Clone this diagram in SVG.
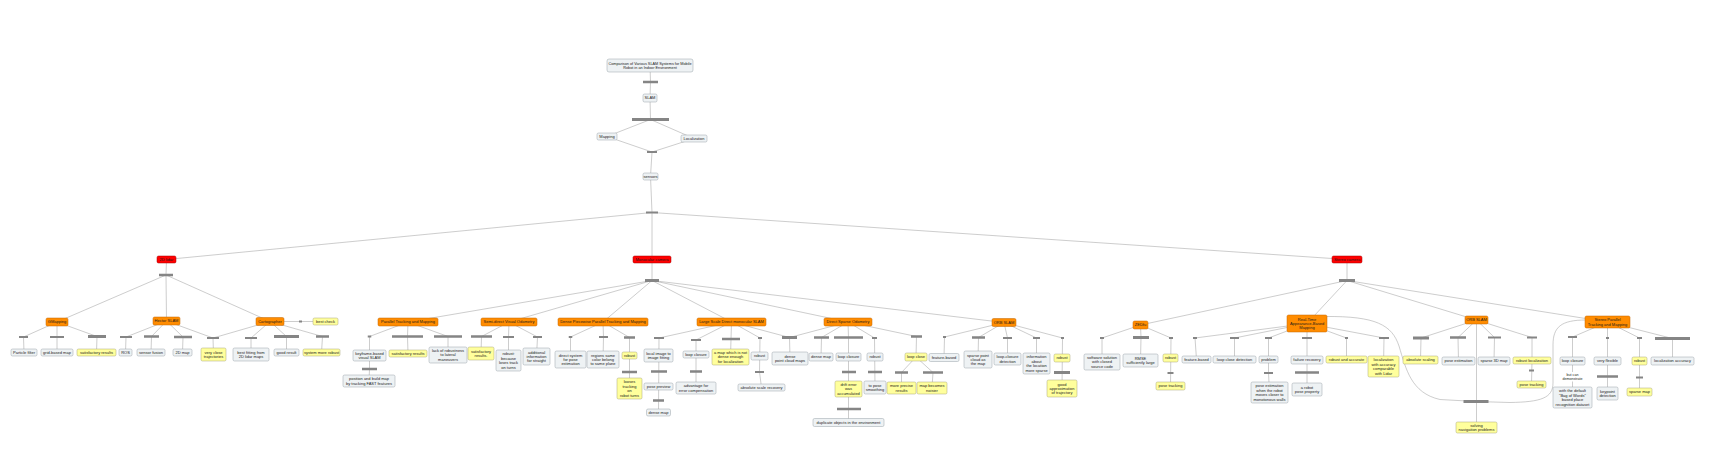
<svg xmlns="http://www.w3.org/2000/svg" width="1721" height="455" viewBox="0 0 1721 455">
<style>
text{font-family:"Liberation Sans",Arial,sans-serif;font-size:4px;fill:#1a1a1a;text-anchor:middle}
.n rect{fill:#eef2f4;stroke:#98a2a8;stroke-width:.5}
.y rect{fill:#ffff9c;stroke:#a8a67a;stroke-width:.5}
.o rect{fill:#ff8c00;stroke:#c06400;stroke-width:.5}
.r rect{fill:#ff0000;stroke:#a00000;stroke-width:.5}
#connectors line,#connectors path{stroke:#a3a3a3;stroke-width:.55;fill:none}
#connectors rect.b{fill:#858585}
</style>
<rect width="1721" height="455" fill="#ffffff"/>
<g id="connectors">
<line x1="650" y1="65.5" x2="650.5" y2="82"/>
<line x1="650.5" y1="82" x2="650" y2="98"/>
<line x1="650" y1="98" x2="650.5" y2="119.5"/>
<line x1="650.5" y1="119.5" x2="607" y2="136.5"/>
<line x1="650.5" y1="119.5" x2="694" y2="138.5"/>
<line x1="607" y1="136.5" x2="652" y2="152"/>
<line x1="694" y1="138.5" x2="652" y2="152"/>
<line x1="652" y1="152" x2="650.5" y2="176.5"/>
<line x1="650.5" y1="176.5" x2="652" y2="212.5"/>
<line x1="652" y1="212.5" x2="166.5" y2="259.5"/>
<line x1="652" y1="212.5" x2="652" y2="259.5"/>
<line x1="652" y1="212.5" x2="1347" y2="259.5"/>
<!-- 2D lidar -->
<line x1="166.5" y1="259.5" x2="166" y2="275"/>
<line x1="166" y1="275" x2="57" y2="322"/>
<line x1="166" y1="275" x2="166.5" y2="321"/>
<line x1="166" y1="275" x2="270" y2="321.5"/>
<line x1="57" y1="322" x2="23.5" y2="337"/>
<line x1="57" y1="322" x2="57" y2="337"/>
<line x1="57" y1="322" x2="97" y2="336.5"/>
<line x1="23.5" y1="337" x2="24" y2="352.5"/>
<line x1="57" y1="337" x2="57" y2="352.5"/>
<line x1="97" y1="336.5" x2="96.5" y2="352.5"/>
<line x1="166.5" y1="321" x2="126" y2="337"/>
<line x1="166.5" y1="321" x2="151.5" y2="336.5"/>
<line x1="166.5" y1="321" x2="183" y2="337"/>
<line x1="166.5" y1="321" x2="213" y2="338"/>
<line x1="126" y1="337" x2="125.5" y2="352.5"/>
<line x1="151.5" y1="336.5" x2="151" y2="352.5"/>
<line x1="183" y1="337" x2="182.5" y2="352.5"/>
<line x1="213" y1="338" x2="213.5" y2="354.5"/>
<line x1="270" y1="321.5" x2="213" y2="338"/>
<line x1="270" y1="321.5" x2="251" y2="338"/>
<line x1="270" y1="321.5" x2="286.5" y2="336.5"/>
<line x1="270" y1="321.5" x2="322.5" y2="336.5"/>
<line x1="251" y1="338" x2="251" y2="354.5"/>
<line x1="286.5" y1="336.5" x2="286.5" y2="352.5"/>
<line x1="322.5" y1="336.5" x2="321.5" y2="352.5"/>
<line x1="270" y1="321.5" x2="325.5" y2="321.5"/>
<!-- Monocular -->
<line x1="652" y1="259.5" x2="652" y2="280.5"/>
<line x1="652" y1="280.5" x2="408" y2="322"/>
<line x1="652" y1="280.5" x2="509" y2="322"/>
<line x1="652" y1="280.5" x2="603" y2="322"/>
<line x1="652" y1="280.5" x2="731.5" y2="322"/>
<line x1="652" y1="280.5" x2="848" y2="322"/>
<line x1="652" y1="280.5" x2="1004" y2="322.5"/>
<line x1="408" y1="322" x2="369.5" y2="336.5"/>
<line x1="408" y1="322" x2="407.5" y2="336.5"/>
<line x1="408" y1="322" x2="448" y2="336.5"/>
<line x1="369.5" y1="336.5" x2="369.5" y2="369"/>
<line x1="369.5" y1="369" x2="369" y2="381"/>
<line x1="407.5" y1="336.5" x2="408" y2="353.5"/>
<line x1="448" y1="336.5" x2="448" y2="355"/>
<line x1="509" y1="322" x2="481.5" y2="336.5"/>
<line x1="509" y1="322" x2="508.5" y2="337"/>
<line x1="509" y1="322" x2="537.5" y2="337"/>
<line x1="481.5" y1="336.5" x2="481" y2="353.5"/>
<line x1="508.5" y1="337" x2="508.5" y2="360.5"/>
<line x1="537.5" y1="337" x2="536.5" y2="356.5"/>
<line x1="603" y1="322" x2="570.5" y2="337"/>
<line x1="603" y1="322" x2="603.5" y2="337"/>
<line x1="603" y1="322" x2="629.5" y2="337.5"/>
<line x1="570.5" y1="337" x2="570.5" y2="359.5"/>
<line x1="603.5" y1="337" x2="603" y2="359.5"/>
<line x1="629.5" y1="337.5" x2="629.5" y2="388.5"/>
<line x1="731.5" y1="322" x2="659" y2="338"/>
<line x1="731.5" y1="322" x2="696" y2="340"/>
<line x1="731.5" y1="322" x2="731" y2="339"/>
<line x1="731.5" y1="322" x2="760" y2="338"/>
<line x1="731.5" y1="322" x2="789.5" y2="337.5"/>
<line x1="659" y1="338" x2="658.5" y2="412.5"/>
<line x1="696" y1="340" x2="696" y2="388"/>
<line x1="731" y1="339" x2="730.5" y2="357"/>
<line x1="760" y1="338" x2="759.5" y2="372"/>
<line x1="759.5" y1="372" x2="761.5" y2="387.5"/>
<line x1="789.5" y1="337.5" x2="790" y2="358.5"/>
<line x1="848" y1="322" x2="789.5" y2="337.5"/>
<line x1="848" y1="322" x2="821.5" y2="337.5"/>
<line x1="848" y1="322" x2="848.5" y2="337.5"/>
<line x1="848" y1="322" x2="874.5" y2="338"/>
<line x1="848" y1="322" x2="916.5" y2="336.5"/>
<line x1="821.5" y1="337.5" x2="821" y2="357"/>
<line x1="848.5" y1="337.5" x2="848.5" y2="422.5"/>
<line x1="874.5" y1="338" x2="875" y2="387.5"/>
<line x1="916.5" y1="336.5" x2="916" y2="357"/>
<line x1="916" y1="357" x2="901.5" y2="372.5"/>
<line x1="901.5" y1="372.5" x2="901.5" y2="388"/>
<line x1="916" y1="357" x2="933" y2="372.5"/>
<line x1="933" y1="372.5" x2="932" y2="388"/>
<line x1="1004" y1="322.5" x2="944.5" y2="337"/>
<line x1="1004" y1="322.5" x2="978.5" y2="337.5"/>
<line x1="1004" y1="322.5" x2="1007.5" y2="338"/>
<line x1="1004" y1="322.5" x2="1036.5" y2="338"/>
<line x1="1004" y1="322.5" x2="1062.5" y2="338"/>
<line x1="944.5" y1="337" x2="944" y2="357.5"/>
<line x1="978.5" y1="337.5" x2="978" y2="359.5"/>
<line x1="1007.5" y1="338" x2="1007.5" y2="359"/>
<line x1="1036.5" y1="338" x2="1036.5" y2="363.5"/>
<line x1="1062.5" y1="338" x2="1062" y2="388.5"/>
<!-- Stereo -->
<line x1="1347" y1="259.5" x2="1347" y2="280.5"/>
<line x1="1347" y1="280.5" x2="1140.5" y2="325"/>
<line x1="1347" y1="280.5" x2="1307" y2="323.5"/>
<line x1="1347" y1="280.5" x2="1476.5" y2="320"/>
<line x1="1347" y1="280.5" x2="1607.5" y2="322"/>
<line x1="1140.5" y1="325" x2="1102" y2="338"/>
<line x1="1140.5" y1="325" x2="1141" y2="337.5"/>
<line x1="1140.5" y1="325" x2="1171" y2="338"/>
<line x1="1102" y1="338" x2="1102" y2="362"/>
<line x1="1141" y1="337.5" x2="1140.5" y2="360.5"/>
<line x1="1171" y1="338" x2="1170.5" y2="386"/>
<line x1="1307" y1="323.5" x2="1195" y2="338"/>
<line x1="1307" y1="323.5" x2="1234.5" y2="338"/>
<line x1="1307" y1="323.5" x2="1268.5" y2="338"/>
<line x1="1307" y1="323.5" x2="1307" y2="338"/>
<line x1="1307" y1="323.5" x2="1346.5" y2="338"/>
<line x1="1307" y1="323.5" x2="1384" y2="338"/>
<line x1="1195" y1="338" x2="1196.5" y2="359.5"/>
<line x1="1234.5" y1="338" x2="1234.5" y2="359.5"/>
<line x1="1268.5" y1="338" x2="1268.5" y2="373"/>
<line x1="1268.5" y1="373" x2="1269.5" y2="392.5"/>
<line x1="1307" y1="338" x2="1307" y2="389.5"/>
<line x1="1346.5" y1="338" x2="1346.5" y2="359.5"/>
<line x1="1384" y1="338" x2="1383.5" y2="366.5"/>
<path d="M1325,316.5 C1376,316 1392,325 1399,346 C1406,369 1411,393 1440,399.5 L1476,401.5"/>
<path d="M1586,320 C1561,320 1553,327 1553,345 L1553,383 C1553,398 1541,402 1510,402.5 L1476,401.5"/>
<line x1="1476.5" y1="320" x2="1421" y2="338"/>
<line x1="1476.5" y1="320" x2="1458" y2="337.5"/>
<line x1="1476.5" y1="320" x2="1494.5" y2="337.5"/>
<line x1="1476.5" y1="320" x2="1532" y2="337.5"/>
<line x1="1476.5" y1="320" x2="1476.5" y2="427.5"/>
<line x1="1421" y1="338" x2="1420.5" y2="360"/>
<line x1="1458" y1="337.5" x2="1458.5" y2="361"/>
<line x1="1494.5" y1="337.5" x2="1494" y2="361"/>
<line x1="1532" y1="337.5" x2="1532" y2="360.5"/>
<line x1="1532" y1="360.5" x2="1531.5" y2="384.5"/>
<line x1="1607.5" y1="322" x2="1572.5" y2="337"/>
<line x1="1607.5" y1="322" x2="1607.5" y2="338"/>
<line x1="1607.5" y1="322" x2="1639.5" y2="338"/>
<line x1="1607.5" y1="322" x2="1672.5" y2="338.5"/>
<line x1="1572.5" y1="337" x2="1572.5" y2="397.5"/>
<line x1="1607.5" y1="338" x2="1607.5" y2="393.5"/>
<line x1="1639.5" y1="338" x2="1639.5" y2="392"/>
<line x1="1672.5" y1="338.5" x2="1672.5" y2="361"/>
<!-- linking bars -->
<rect class="b" x="643" y="80.75" width="15" height="2.5"/>
<rect class="b" x="632" y="118" width="37" height="3"/>
<rect class="b" x="647" y="151" width="10" height="2"/>
<rect class="b" x="646" y="211.5" width="12" height="2"/>
<rect class="b" x="159" y="273.75" width="14" height="2.5"/>
<rect class="b" x="19" y="336" width="9" height="2"/>
<rect class="b" x="50" y="336" width="14" height="2"/>
<rect class="b" x="88" y="335" width="18" height="3"/>
<rect class="b" x="120" y="336" width="12" height="2"/>
<rect class="b" x="144" y="335.25" width="15" height="2.5"/>
<rect class="b" x="174" y="335.75" width="18" height="2.5"/>
<rect class="b" x="207" y="337" width="12" height="2"/>
<rect class="b" x="245" y="337" width="12" height="2"/>
<rect class="b" x="274" y="335" width="25" height="3"/>
<rect class="b" x="316" y="335.25" width="13" height="2.5"/>
<rect class="b" x="299" y="320.5" width="3" height="2"/>
<rect class="b" x="645" y="279" width="14" height="3"/>
<rect class="b" x="367.75" y="335.5" width="3.5" height="2"/>
<rect class="b" x="392" y="335.25" width="31" height="2.5"/>
<rect class="b" x="434" y="335.25" width="28" height="2.5"/>
<rect class="b" x="362" y="367.75" width="15" height="2.5"/>
<rect class="b" x="471" y="335.25" width="21" height="2.5"/>
<rect class="b" x="503" y="336" width="11" height="2"/>
<rect class="b" x="533" y="336" width="9" height="2"/>
<rect class="b" x="568.75" y="336" width="3.5" height="2"/>
<rect class="b" x="599" y="336" width="9" height="2"/>
<rect class="b" x="624" y="336.25" width="11" height="2.5"/>
<rect class="b" x="622" y="370.75" width="15" height="2.5"/>
<rect class="b" x="654" y="337" width="10" height="2"/>
<rect class="b" x="651" y="370.25" width="16" height="2.5"/>
<rect class="b" x="653" y="399.25" width="11" height="2.5"/>
<rect class="b" x="691" y="339" width="10" height="2"/>
<rect class="b" x="690" y="370.25" width="12" height="2.5"/>
<rect class="b" x="722" y="337.75" width="18" height="2.5"/>
<rect class="b" x="758" y="337" width="4" height="2"/>
<rect class="b" x="755" y="371" width="9" height="2"/>
<rect class="b" x="782" y="336" width="15" height="3"/>
<rect class="b" x="814" y="336.25" width="15" height="2.5"/>
<rect class="b" x="834" y="336.25" width="29" height="2.5"/>
<rect class="b" x="872" y="337" width="5" height="2"/>
<rect class="b" x="911" y="335.25" width="11" height="2.5"/>
<rect class="b" x="842" y="370.75" width="14" height="2.5"/>
<rect class="b" x="837" y="407.75" width="24" height="2.5"/>
<rect class="b" x="868" y="370.75" width="14" height="2.5"/>
<rect class="b" x="895" y="371.25" width="13" height="2.5"/>
<rect class="b" x="923" y="371.25" width="20" height="2.5"/>
<rect class="b" x="943" y="336" width="3" height="2"/>
<rect class="b" x="972" y="336.25" width="13" height="2.5"/>
<rect class="b" x="1003" y="337" width="9" height="2"/>
<rect class="b" x="1033" y="337" width="7" height="2"/>
<rect class="b" x="1061" y="337" width="3" height="2"/>
<rect class="b" x="1054" y="371" width="16" height="3"/>
<rect class="b" x="1339" y="279" width="16" height="3"/>
<rect class="b" x="1100" y="337" width="4" height="2"/>
<rect class="b" x="1133" y="336" width="16" height="3"/>
<rect class="b" x="1169" y="337" width="4" height="2"/>
<rect class="b" x="1167.5" y="372" width="6" height="2"/>
<rect class="b" x="1193" y="337" width="4" height="2"/>
<rect class="b" x="1230" y="337" width="9" height="2"/>
<rect class="b" x="1265" y="337" width="7" height="2"/>
<rect class="b" x="1264" y="372" width="9" height="2"/>
<rect class="b" x="1302" y="337" width="10" height="2"/>
<rect class="b" x="1295" y="371.25" width="24" height="2.5"/>
<rect class="b" x="1345" y="337" width="3" height="2"/>
<rect class="b" x="1379" y="337" width="10" height="2"/>
<rect class="b" x="1413" y="336.5" width="16" height="3"/>
<rect class="b" x="1450" y="336.25" width="16" height="2.5"/>
<rect class="b" x="1488" y="336.5" width="13" height="2"/>
<rect class="b" x="1527" y="336.5" width="10" height="2"/>
<rect class="b" x="1529" y="369.5" width="5" height="2"/>
<rect class="b" x="1463.5" y="400" width="25" height="3"/>
<rect class="b" x="1568" y="336" width="9" height="2"/>
<rect class="b" x="1606" y="337" width="3" height="2"/>
<rect class="b" x="1637" y="337" width="5" height="2"/>
<rect class="b" x="1655" y="337" width="35" height="3"/>
<rect class="b" x="1597" y="375.25" width="21" height="2.5"/>
<rect class="b" x="1636" y="376.5" width="7" height="2"/>
<rect x="1561" y="372" width="23" height="9.5" fill="#ffffff"/>
<text x="1572.5" y="375.8" style="font-size:3.6px"><tspan x="1572.5">but can</tspan><tspan x="1572.5" dy="4">demonstrate</tspan></text>
</g>
<g id="n-title" class="n"><rect x="607" y="59" width="86" height="13" rx="2"/><text x="650" y="64.6" style="font-size:3.8px"><tspan x="650">Comparison of Various SLAM Systems for Mobile</tspan><tspan x="650" dy="4.4">Robot in an Indoor Environment</tspan></text></g>
<g id="n-slam" class="n"><rect x="643" y="94" width="14" height="8" rx="1.5"/><text x="650" y="99.4">SLAM</text></g>
<g id="n-mapping" class="n"><rect x="597" y="133" width="20" height="7" rx="1.5"/><text x="607" y="137.9">Mapping</text></g>
<g id="n-localization" class="n"><rect x="681" y="135" width="26" height="7" rx="1.5"/><text x="694" y="139.9">Localization</text></g>
<g id="n-sensors" class="n"><rect x="643" y="173" width="15" height="7" rx="1.5"/><text x="650.5" y="177.9">sensors</text></g>
<g id="n-lidar" class="r"><rect x="157" y="256" width="19" height="7" rx="1.5"/><text x="166.5" y="260.9">2D lidar</text></g>
<g id="n-mono" class="r"><rect x="633" y="256" width="38" height="7" rx="1.5"/><text x="652" y="260.9">Monocular camera</text></g>
<g id="n-stereo" class="r"><rect x="1332" y="256" width="30" height="7" rx="1.5"/><text x="1347" y="260.9">Stereo camera</text></g>
<g id="n-gmapping" class="o"><rect x="46" y="318" width="22" height="8" rx="1.5"/><text x="57" y="323.4">GMapping</text></g>
<g id="n-hector" class="o"><rect x="153" y="317" width="27" height="8" rx="1.5"/><text x="166.5" y="322.4">Hector SLAM</text></g>
<g id="n-carto" class="o"><rect x="256" y="317.5" width="28" height="8" rx="1.5"/><text x="270" y="322.9">Cartographer</text></g>
<g id="n-bestcheck" class="y"><rect x="313" y="318" width="25" height="7" rx="1.5"/><text x="325.5" y="322.9">best check</text></g>
<g id="n-particle" class="n"><rect x="11" y="349" width="26" height="7" rx="1.5"/><text x="24" y="353.9">Particle filter</text></g>
<g id="n-gridmap" class="n"><rect x="41" y="349" width="32" height="7" rx="1.5"/><text x="57" y="353.9">grid-based map</text></g>
<g id="n-satres1" class="y"><rect x="77" y="349" width="39" height="7" rx="1.5"/><text x="96.5" y="353.9">satisfactory results</text></g>
<g id="n-ros" class="n"><rect x="119" y="349" width="13" height="7" rx="1.5"/><text x="125.5" y="353.9">ROS</text></g>
<g id="n-fusion" class="n"><rect x="137" y="349" width="28" height="7" rx="1.5"/><text x="151" y="353.9">sensor fusion</text></g>
<g id="n-2dmap" class="n"><rect x="173" y="349" width="19" height="7" rx="1.5"/><text x="182.5" y="353.9">2D map</text></g>
<g id="n-veryclose" class="y"><rect x="201" y="348" width="25" height="13" rx="1.5"/><text x="213.5" y="353.7"><tspan x="213.5">very close</tspan><tspan x="213.5" dy="4.4">trajectories</tspan></text></g>
<g id="n-bestfit" class="n"><rect x="233" y="348" width="36" height="13" rx="1.5"/><text x="251" y="353.7"><tspan x="251">best fitting from</tspan><tspan x="251" dy="4.4">2D lidar maps</tspan></text></g>
<g id="n-goodresult" class="n"><rect x="274" y="349" width="25" height="7" rx="1.5"/><text x="286.5" y="353.9">good result</text></g>
<g id="n-morerobust" class="y"><rect x="303" y="349" width="37" height="7" rx="1.5"/><text x="321.5" y="353.9">system more robust</text></g>
<g id="n-ptam" class="o"><rect x="378" y="318" width="60" height="8" rx="1.5"/><text x="408" y="323.4">Parallel Tracking and Mapping</text></g>
<g id="n-svo" class="o"><rect x="481" y="318" width="56" height="8" rx="1.5"/><text x="509" y="323.4">Semi-direct Visual Odometry</text></g>
<g id="n-dpptam" class="o"><rect x="558" y="318" width="90" height="8" rx="1.5"/><text x="603" y="323.4">Dense Piecewise Parallel Tracking and Mapping</text></g>
<g id="n-lsd" class="o"><rect x="697" y="318" width="69" height="8" rx="1.5"/><text x="731.5" y="323.4">Large Scale Direct monocular SLAM</text></g>
<g id="n-dso" class="o"><rect x="824" y="318" width="48" height="8" rx="1.5"/><text x="848" y="323.4">Direct Sparse Odometry</text></g>
<g id="n-orbmono" class="o"><rect x="992" y="318.5" width="24" height="8" rx="1.5"/><text x="1004" y="323.9">ORB SLAM</text></g>
<g id="n-keyframe" class="n"><rect x="353" y="350" width="33" height="11" rx="1.5"/><text x="369.5" y="354.7"><tspan x="369.5">keyframe-based</tspan><tspan x="369.5" dy="4.4">visual SLAM</tspan></text></g>
<g id="n-satres2" class="y"><rect x="389" y="350" width="38" height="7" rx="1.5"/><text x="408" y="354.9">satisfactory results</text></g>
<g id="n-lack" class="n"><rect x="429" y="347" width="38" height="16" rx="1.5"/><text x="448" y="352"><tspan x="448">lack of robustness</tspan><tspan x="448" dy="4.4">to lateral</tspan><tspan x="448" dy="4.4">maneuvers</tspan></text></g>
<g id="n-position" class="n"><rect x="343" y="375" width="52" height="12" rx="1.5"/><text x="369" y="380.2"><tspan x="369">position and build map</tspan><tspan x="369" dy="4.4">by tracking FAST features</tspan></text></g>
<g id="n-satres3" class="y"><rect x="468" y="347" width="26" height="13" rx="1.5"/><text x="481" y="352.7"><tspan x="481">satisfactory</tspan><tspan x="481" dy="4.4">results.</tspan></text></g>
<g id="n-robustsvo" class="n"><rect x="496" y="350" width="25" height="21" rx="1.5"/><text x="508.5" y="355.3"><tspan x="508.5">robust:</tspan><tspan x="508.5" dy="4.4">because</tspan><tspan x="508.5" dy="4.4">loses track</tspan><tspan x="508.5" dy="4.4">on turns</tspan></text></g>
<g id="n-additional" class="n"><rect x="523" y="348" width="27" height="17" rx="1.5"/><text x="536.5" y="353.5"><tspan x="536.5">additional</tspan><tspan x="536.5" dy="4.4">information</tspan><tspan x="536.5" dy="4.4">for straight</tspan></text></g>
<g id="n-direct" class="n"><rect x="555" y="351" width="31" height="17" rx="1.5"/><text x="570.5" y="356.5"><tspan x="570.5">direct system</tspan><tspan x="570.5" dy="4.4">for pose</tspan><tspan x="570.5" dy="4.4">estimation</tspan></text></g>
<g id="n-regions" class="n"><rect x="587" y="351" width="32" height="17" rx="1.5"/><text x="603" y="356.5"><tspan x="603">regions same</tspan><tspan x="603" dy="4.4">color belong</tspan><tspan x="603" dy="4.4">to same plane</tspan></text></g>
<g id="n-robustdp" class="y"><rect x="622" y="352" width="15" height="7" rx="1.5"/><text x="629.5" y="356.9">robust</text></g>
<g id="n-looses" class="y"><rect x="617" y="378" width="25" height="21" rx="1.5"/><text x="629.5" y="383.3"><tspan x="629.5">looses</tspan><tspan x="629.5" dy="4.4">tracking</tspan><tspan x="629.5" dy="4.4">on</tspan><tspan x="629.5" dy="4.4">robot turns</tspan></text></g>
<g id="n-localimage" class="n"><rect x="644" y="349" width="29" height="13" rx="1.5"/><text x="658.5" y="354.7"><tspan x="658.5">local image to</tspan><tspan x="658.5" dy="4.4">image fitting</tspan></text></g>
<g id="n-posepreview" class="n"><rect x="644" y="383" width="29" height="7" rx="1.5"/><text x="658.5" y="387.9">pose preview</text></g>
<g id="n-densemap1" class="n"><rect x="646.5" y="409" width="24" height="7" rx="1.5"/><text x="658.5" y="413.9">dense map</text></g>
<g id="n-loopclosure1" class="n"><rect x="683" y="351" width="26" height="7" rx="1.5"/><text x="696" y="355.9">loop closure</text></g>
<g id="n-advantage" class="n"><rect x="676" y="382" width="40" height="12" rx="1.5"/><text x="696" y="387.2"><tspan x="696">advantage for</tspan><tspan x="696" dy="4.4">error compensation</tspan></text></g>
<g id="n-amap" class="y"><rect x="712" y="349" width="37" height="16" rx="1.5"/><text x="730.5" y="354"><tspan x="730.5">a map which is not</tspan><tspan x="730.5" dy="4.4">dense enough</tspan><tspan x="730.5" dy="4.4">for localization</tspan></text></g>
<g id="n-robustlsd" class="n"><rect x="751" y="352" width="17" height="8" rx="1.5"/><text x="759.5" y="357.4">robust</text></g>
<g id="n-absscale" class="n"><rect x="738" y="384" width="47" height="7" rx="1.5"/><text x="761.5" y="388.9">absolute scale recovery</text></g>
<g id="n-densecloud" class="n"><rect x="772" y="352" width="36" height="13" rx="1.5"/><text x="790" y="357.7"><tspan x="790">dense</tspan><tspan x="790" dy="4.4">point cloud maps</tspan></text></g>
<g id="n-densemap2" class="n"><rect x="809" y="353" width="24" height="8" rx="1.5"/><text x="821" y="358.4">dense map</text></g>
<g id="n-loopclosure2" class="n"><rect x="836" y="353" width="25" height="8" rx="1.5"/><text x="848.5" y="358.4">loop closure</text></g>
<g id="n-robustdso" class="n"><rect x="867" y="353" width="16" height="8" rx="1.5"/><text x="875" y="358.4">robust</text></g>
<g id="n-loopclose" class="y"><rect x="905" y="353" width="22" height="8" rx="1.5"/><text x="916" y="358.4">loop close</text></g>
<g id="n-drift" class="y"><rect x="835" y="381" width="27" height="16" rx="1.5"/><text x="848.5" y="386"><tspan x="848.5">drift error</tspan><tspan x="848.5" dy="4.4">was</tspan><tspan x="848.5" dy="4.4">accumulated</tspan></text></g>
<g id="n-duplicate" class="n"><rect x="813" y="418.5" width="71" height="8" rx="1.5"/><text x="848.5" y="423.9">duplicate objects in the environment</text></g>
<g id="n-smoothing" class="n"><rect x="864" y="381" width="22" height="13" rx="1.5"/><text x="875" y="386.7"><tspan x="875">to pose</tspan><tspan x="875" dy="4.4">smoothing</tspan></text></g>
<g id="n-precise" class="y"><rect x="887" y="382" width="29" height="12" rx="1.5"/><text x="901.5" y="387.2"><tspan x="901.5">more precise</tspan><tspan x="901.5" dy="4.4">results</tspan></text></g>
<g id="n-noisier" class="y"><rect x="917" y="382" width="30" height="12" rx="1.5"/><text x="932" y="387.2"><tspan x="932">map becomes</tspan><tspan x="932" dy="4.4">noisier</tspan></text></g>
<g id="n-featmono" class="n"><rect x="929" y="353.5" width="30" height="8" rx="1.5"/><text x="944" y="358.9">feature-based</text></g>
<g id="n-sparsecloud" class="n"><rect x="964" y="351" width="28" height="17" rx="1.5"/><text x="978" y="356.5"><tspan x="978">sparse point</tspan><tspan x="978" dy="4.4">cloud as</tspan><tspan x="978" dy="4.4">the map</tspan></text></g>
<g id="n-lcdetect" class="n"><rect x="994" y="353" width="27" height="12" rx="1.5"/><text x="1007.5" y="358.2"><tspan x="1007.5">loop-closure</tspan><tspan x="1007.5" dy="4.4">detection</tspan></text></g>
<g id="n-information" class="n"><rect x="1023" y="353" width="27" height="21" rx="1.5"/><text x="1036.5" y="358.3"><tspan x="1036.5">information</tspan><tspan x="1036.5" dy="4.4">about</tspan><tspan x="1036.5" dy="4.4">the location</tspan><tspan x="1036.5" dy="4.4">more sparse</tspan></text></g>
<g id="n-robustorbm" class="y"><rect x="1054" y="354" width="16" height="8" rx="1.5"/><text x="1062" y="359.4">robust</text></g>
<g id="n-goodapprox" class="y"><rect x="1047" y="380" width="30" height="17" rx="1.5"/><text x="1062" y="385.5"><tspan x="1062">good</tspan><tspan x="1062" dy="4.4">approximation</tspan><tspan x="1062" dy="4.4">of trajectory</tspan></text></g>
<g id="n-zedfu" class="o"><rect x="1133" y="321" width="15" height="8" rx="1.5"/><text x="1140.5" y="326.4">ZEDfu</text></g>
<g id="n-rtab" class="o"><rect x="1287" y="315" width="40" height="17" rx="1.5"/><text x="1307" y="320.5"><tspan x="1307">Real-Time</tspan><tspan x="1307" dy="4.4">Appearance-Based</tspan><tspan x="1307" dy="4.4">Mapping</tspan></text></g>
<g id="n-orbst" class="o"><rect x="1465" y="316" width="23" height="8" rx="1.5"/><text x="1476.5" y="321.4">ORB SLAM</text></g>
<g id="n-sptam" class="o"><rect x="1585" y="316" width="45" height="12" rx="1.5"/><text x="1607.5" y="321.2"><tspan x="1607.5">Stereo Parallel</tspan><tspan x="1607.5" dy="4.4">Tracking and Mapping</tspan></text></g>
<g id="n-software" class="n"><rect x="1084" y="354" width="36" height="16" rx="1.5"/><text x="1102" y="359"><tspan x="1102">software solution</tspan><tspan x="1102" dy="4.4">with closed</tspan><tspan x="1102" dy="4.4">source code</tspan></text></g>
<g id="n-rmse" class="n"><rect x="1123" y="354" width="35" height="13" rx="1.5"/><text x="1140.5" y="359.7"><tspan x="1140.5">RMSE</tspan><tspan x="1140.5" dy="4.4">sufficiently large</tspan></text></g>
<g id="n-robustzed" class="y"><rect x="1163" y="354" width="15" height="8" rx="1.5"/><text x="1170.5" y="359.4">robust</text></g>
<g id="n-posetrack1" class="y"><rect x="1156" y="382" width="29" height="8" rx="1.5"/><text x="1170.5" y="387.4">pose tracking</text></g>
<g id="n-featrtab" class="n"><rect x="1182" y="356" width="29" height="7" rx="1.5"/><text x="1196.5" y="360.9">feature-based</text></g>
<g id="n-lcd" class="n"><rect x="1213" y="356" width="43" height="7" rx="1.5"/><text x="1234.5" y="360.9">loop close detection</text></g>
<g id="n-problem" class="n"><rect x="1259" y="356" width="19" height="7" rx="1.5"/><text x="1268.5" y="360.9">problem</text></g>
<g id="n-poseest1" class="n"><rect x="1251" y="382" width="37" height="21" rx="1.5"/><text x="1269.5" y="387.3"><tspan x="1269.5">pose estimation</tspan><tspan x="1269.5" dy="4.4">when the robot</tspan><tspan x="1269.5" dy="4.4">moves closer to</tspan><tspan x="1269.5" dy="4.4">monotonous walls</tspan></text></g>
<g id="n-failure" class="n"><rect x="1291" y="356" width="32" height="8" rx="1.5"/><text x="1307" y="361.4">failure recovery</text></g>
<g id="n-arobot" class="n"><rect x="1292" y="383" width="30" height="13" rx="1.5"/><text x="1307" y="388.7"><tspan x="1307">a robot</tspan><tspan x="1307" dy="4.4">pose property</tspan></text></g>
<g id="n-robustacc" class="y"><rect x="1326" y="356" width="41" height="7" rx="1.5"/><text x="1346.5" y="360.9">robust and accurate</text></g>
<g id="n-locacc" class="y"><rect x="1368" y="356" width="31" height="21" rx="1.5"/><text x="1383.5" y="361.3"><tspan x="1383.5">localization</tspan><tspan x="1383.5" dy="4.4">with accuracy</tspan><tspan x="1383.5" dy="4.4">comparable</tspan><tspan x="1383.5" dy="4.4">with Lidar</tspan></text></g>
<g id="n-absscaling" class="y"><rect x="1403" y="356" width="35" height="8" rx="1.5"/><text x="1420.5" y="361.4">absolute scaling</text></g>
<g id="n-poseest2" class="n"><rect x="1442" y="357" width="33" height="8" rx="1.5"/><text x="1458.5" y="362.4">pose estimation</text></g>
<g id="n-sparse3d" class="n"><rect x="1478" y="357" width="32" height="8" rx="1.5"/><text x="1494" y="362.4">sparse 3D map</text></g>
<g id="n-robustloc" class="y"><rect x="1513" y="357" width="38" height="7" rx="1.5"/><text x="1532" y="361.9">robust localization</text></g>
<g id="n-posetrack2" class="y"><rect x="1517" y="381" width="29" height="7" rx="1.5"/><text x="1531.5" y="385.9">pose tracking</text></g>
<g id="n-solving" class="y"><rect x="1456" y="422" width="41" height="11" rx="1.5"/><text x="1476.5" y="426.7"><tspan x="1476.5">solving</tspan><tspan x="1476.5" dy="4.4">navigation problems</tspan></text></g>
<g id="n-loopclosure3" class="n"><rect x="1560" y="357" width="25" height="8" rx="1.5"/><text x="1572.5" y="362.4">loop closure</text></g>
<g id="n-bagofwords" class="n"><rect x="1553" y="387" width="39" height="21" rx="1.5"/><text x="1572.5" y="392.3"><tspan x="1572.5">with the default</tspan><tspan x="1572.5" dy="4.4">"Bag of Words"</tspan><tspan x="1572.5" dy="4.4">based place</tspan><tspan x="1572.5" dy="4.4">recognition dataset</tspan></text></g>
<g id="n-flexible" class="n"><rect x="1594" y="357" width="27" height="8" rx="1.5"/><text x="1607.5" y="362.4">very flexible</text></g>
<g id="n-keypoint" class="n"><rect x="1597" y="387" width="21" height="13" rx="1.5"/><text x="1607.5" y="392.7"><tspan x="1607.5">keypoint</tspan><tspan x="1607.5" dy="4.4">detection</tspan></text></g>
<g id="n-robustsp" class="y"><rect x="1632" y="357" width="15" height="8" rx="1.5"/><text x="1639.5" y="362.4">robust</text></g>
<g id="n-sparsemap" class="y"><rect x="1627" y="388" width="25" height="8" rx="1.5"/><text x="1639.5" y="393.4">sparse map</text></g>
<g id="n-locaccuracy" class="n"><rect x="1651" y="357" width="43" height="8" rx="1.5"/><text x="1672.5" y="362.4">localization accuracy</text></g>
</svg>
